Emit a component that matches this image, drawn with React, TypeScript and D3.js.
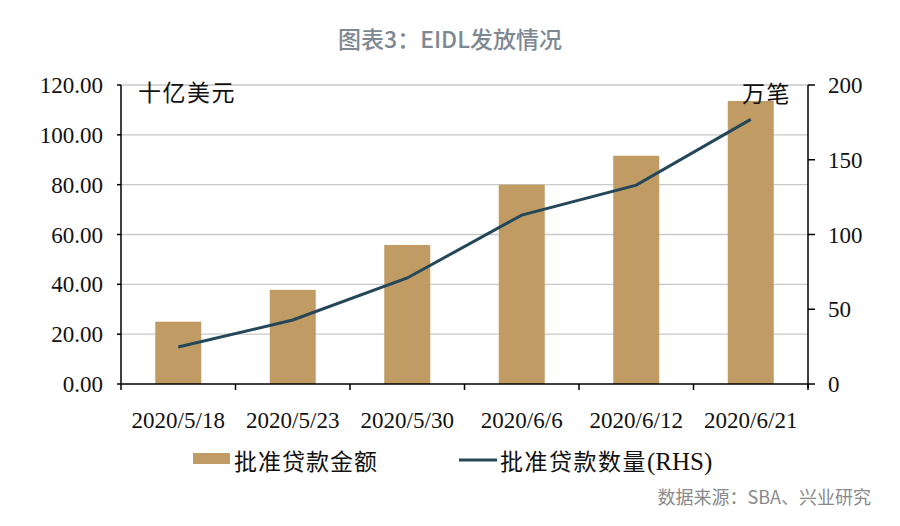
import * as d3 from "d3";

const dates = ["2020/5/18", "2020/5/23", "2020/5/30", "2020/6/6", "2020/6/12", "2020/6/21"];
const amount = [25.0, 37.8, 55.8, 80.0, 91.6, 113.6];
const count = [24.7, 42.8, 70.9, 113, 133, 177];
const leftTicks = [0, 20, 40, 60, 80, 100, 120];
const rightTicks = [0, 50, 100, 150, 200];

const W = 900;
const H = 526;
const m = { left: 121, right: 808, top: 85, bottom: 384 };

const serif = "'Liberation Serif', 'DejaVu Serif', serif";
const cjk = "'Noto Sans CJK SC', sans-serif";

export default function App() {
  const band = d3.scaleBand().domain(dates).range([m.left, m.right]);
  const yL = d3.scaleLinear().domain([0, 120]).range([m.bottom, m.top]);
  const yR = d3.scaleLinear().domain([0, 200]).range([m.bottom, m.top]);
  const cx = (d: string) => (band(d) ?? 0) + band.bandwidth() / 2;

  const line = d3
    .line<number>()
    .x((_, i) => cx(dates[i]))
    .y((d) => yR(d));

  const boundaries = [...dates.map((d) => band(d) ?? 0), m.right];

  return (
    <svg width={W} height={H} style={{ position: "absolute", left: 0, top: 0 }}>
      <rect width={W} height={H} fill="#fff" />
      <text x={450} y={48} textAnchor="middle" fontFamily={cjk} fontSize={23} fontWeight={500} fill="#7d8893">
        图表3：EIDL发放情况
      </text>

      {leftTicks.slice(1).map((t) => (
        <line key={t} x1={m.left} x2={m.right} y1={yL(t)} y2={yL(t)} stroke="#c9c9c9" strokeWidth={1.3} />
      ))}

      {amount.map((v, i) => (
        <rect key={i} x={cx(dates[i]) - 23} width={46} y={yL(v)} height={yL(0) - yL(v)} fill="#c09b64" />
      ))}

      <path d={line(count) ?? ""} fill="none" stroke="#24475a" strokeWidth={3} />

      {/* left axis */}
      <line x1={m.left} x2={m.left} y1={m.top} y2={m.bottom} stroke="#000" strokeWidth={1.5} />
      {leftTicks.map((t) => (
        <g key={t}>
          <line x1={m.left - 4} x2={m.left} y1={yL(t)} y2={yL(t)} stroke="#000" strokeWidth={1.5} />
          <text x={103} y={yL(t) + 8} textAnchor="end" fontFamily={serif} fontSize={23} fill="#111">
            {t.toFixed(2)}
          </text>
        </g>
      ))}

      {/* right axis */}
      <line x1={m.right} x2={m.right} y1={m.top} y2={m.bottom + 4} stroke="#000" strokeWidth={1.5} />
      {rightTicks.map((t) => (
        <g key={t}>
          <line x1={m.right} x2={m.right + 7} y1={yR(t)} y2={yR(t)} stroke="#000" strokeWidth={1.5} />
          <text x={828} y={yR(t) + 8} textAnchor="start" fontFamily={serif} fontSize={23} fill="#111">
            {t}
          </text>
        </g>
      ))}

      {/* x axis */}
      <line x1={m.left} x2={m.right} y1={m.bottom} y2={m.bottom} stroke="#000" strokeWidth={1.5} />
      {boundaries.map((b, i) => (
        <line key={i} x1={b} x2={b} y1={m.bottom} y2={m.bottom + 6} stroke="#000" strokeWidth={1.5} />
      ))}
      {dates.map((d) => (
        <text key={d} x={cx(d)} y={428} textAnchor="middle" fontFamily={serif} fontSize={23} fill="#111">
          {d}
        </text>
      ))}

      <text x={138} y={101} fontFamily={cjk} fontSize={23} letterSpacing={1.5} fill="#111">
        十亿美元
      </text>
      <text x={791} y={102} textAnchor="end" fontFamily={cjk} fontSize={23} letterSpacing={1.5} fill="#111">
        万笔
      </text>

      {/* legend */}
      <rect x={193} y={453} width={37} height={11} fill="#c09b64" />
      <text x={234} y={470} fontFamily={cjk} fontSize={23} letterSpacing={1} fill="#111">
        批准贷款金额
      </text>
      <line x1={459} x2={497} y1={460} y2={460} stroke="#24475a" strokeWidth={3} />
      <text x={500} y={470} fontFamily={cjk} fontSize={23} letterSpacing={1.5} fill="#111">
        批准贷款数量<tspan fontFamily={serif} fontSize={25} letterSpacing={0}>(RHS)</tspan>
      </text>

      <text x={871} y={504} textAnchor="end" fontFamily={cjk} fontSize={18} fill="#8a8a8a">
        数据来源：SBA、兴业研究
      </text>
    </svg>
  );
}
